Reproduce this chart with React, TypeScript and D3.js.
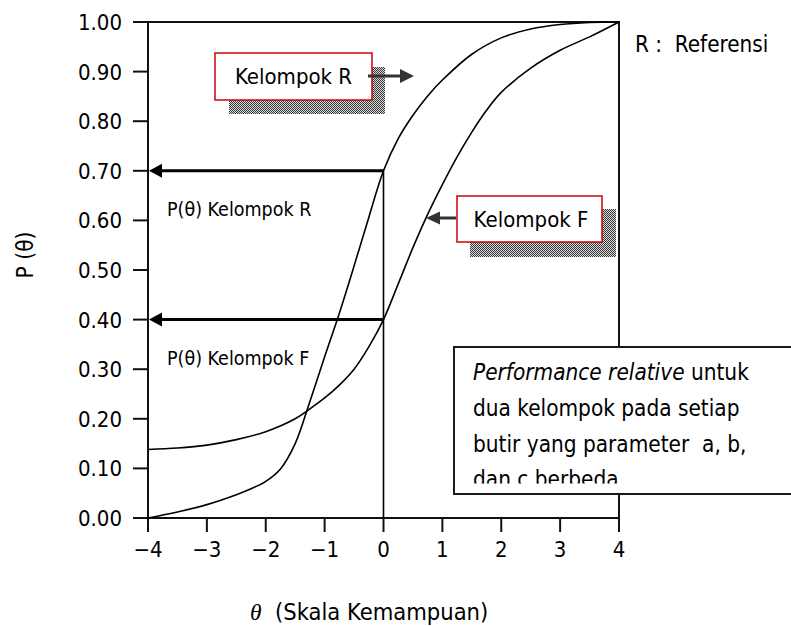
import React from 'react';
import * as d3 from 'd3';

// ---- data ----
const thetaTicks = [-4, -3, -2, -1, 0, 1, 2, 3, 4];
const thetaTickLabels = ['−4', '−3', '−2', '−1', '0', '1', '2', '3', '4'];
const pTicks = [0, 0.1, 0.2, 0.3, 0.4, 0.5, 0.6, 0.7, 0.8, 0.9, 1.0];
const pTickLabels = ['0.00', '0.10', '0.20', '0.30', '0.40', '0.50', '0.60', '0.70', '0.80', '0.90', '1.00'];

// Kelompok R (reference group) ICC
const thetaR = [-4, -3.5, -3, -2.5, -2.25, -2, -1.75, -1.5, -1.25, -1, -0.75, -0.5, -0.25, 0, 0.25, 0.5, 0.75, 1, 1.5, 2, 2.5, 3, 3.5, 4];
const pR = [0.0, 0.012, 0.027, 0.047, 0.059, 0.074, 0.099, 0.15, 0.235, 0.325, 0.413, 0.508, 0.606, 0.7, 0.765, 0.812, 0.851, 0.883, 0.935, 0.968, 0.986, 0.995, 0.999, 1.0];

// Kelompok F (focal group) ICC
const thetaF = [-4, -3.5, -3, -2.5, -2, -1.5, -1.25, -1, -0.75, -0.5, -0.25, 0, 0.25, 0.5, 0.75, 1, 1.25, 1.5, 1.75, 2, 2.5, 3, 3.5, 4];
const pF = [0.138, 0.141, 0.147, 0.158, 0.174, 0.2, 0.22, 0.242, 0.268, 0.3, 0.345, 0.4, 0.472, 0.545, 0.612, 0.672, 0.728, 0.778, 0.822, 0.858, 0.907, 0.943, 0.97, 1.0];

const markerTheta = 0;
const markerLevels = [0.7, 0.4];
const markerLabels = ['P(θ) Kelompok R', 'P(θ) Kelompok F'];
const calloutLabels = ['Kelompok R', 'Kelompok F'];
const noteLine1Italic = 'Performance relative';
const noteLine1Rest = ' untuk';
const noteLines = ['dua kelompok pada setiap', 'butir yang parameter\u00a0\u00a0a, b,', 'dan c berbeda'];
const legendText = 'R :\u00a0\u00a0Referensi';
const xTitleTheta = 'θ';
const xTitleRest = '\u00a0 (Skala Kemampuan)';
const yTitle = 'P (θ)';

const FONT = '"DejaVu Sans Condensed", "DejaVu Sans", sans-serif';

export default function App() {
  const W = 791, H = 626;
  const left = 148, right = 619, top = 22, bottom = 518;
  const x = d3.scaleLinear().domain([-4, 4]).range([left, right]);
  const y = d3.scaleLinear().domain([0, 1]).range([bottom, top]);

  const line = d3.line<[number, number]>()
    .x(d => x(d[0]))
    .y(d => y(d[1]))
    .curve(d3.curveCatmullRom.alpha(0.5));

  const dataR: [number, number][] = thetaR.map((t, i) => [t, pR[i]]);
  const dataF: [number, number][] = thetaF.map((t, i) => [t, pF[i]]);

  const txt = '#000';

  return (
    <svg width={W} height={H} style={{ position: 'absolute', left: 0, top: 0, background: '#fff' }} fontFamily={FONT}>
      <defs>
        <pattern id="dither" width={2} height={2} patternUnits="userSpaceOnUse">
          <rect x={0} y={0} width={2} height={2} fill="#d8d8d8" />
          <rect x={0} y={0} width={1} height={1} fill="#3a3a3a" />
          <rect x={1} y={1} width={1} height={1} fill="#3a3a3a" />
        </pattern>
        <clipPath id="noteClip">
          <rect x={454} y={347} width={400} height={136.5} />
        </clipPath>
      </defs>

      {/* frame */}
      <rect x={left} y={top} width={right - left} height={bottom - top} fill="none" stroke="#111" strokeWidth={2} />

      {/* y ticks */}
      {pTicks.map((p, i) => (
        <g key={'yt' + i}>
          <line x1={left - 15} x2={left} y1={y(p)} y2={y(p)} stroke="#111" strokeWidth={2} />
          <text x={122} y={y(p) + 8} textAnchor="end" fontSize={22} fill={txt}>{pTickLabels[i]}</text>
        </g>
      ))}

      {/* x ticks */}
      {thetaTicks.map((t, i) => (
        <g key={'xt' + i}>
          <line x1={x(t)} x2={x(t)} y1={bottom} y2={bottom + 14} stroke="#111" strokeWidth={2} />
          <text x={x(t)} y={557} textAnchor="middle" fontSize={22} fill={txt}>{thetaTickLabels[i]}</text>
        </g>
      ))}

      {/* curves */}
      <path d={line(dataR) || ''} fill="none" stroke="#000" strokeWidth={1.6} />
      <path d={line(dataF) || ''} fill="none" stroke="#000" strokeWidth={1.6} />

      {/* vertical line at theta = 0 */}
      <line x1={x(markerTheta)} x2={x(markerTheta)} y1={y(markerLevels[0])} y2={y(0)} stroke="#000" strokeWidth={1.6} />

      {/* horizontal arrows to axis */}
      {markerLevels.map((lv, i) => {
        const yy = y(lv);
        return (
          <g key={'ar' + i}>
            <line x1={x(markerTheta)} x2={left + 12} y1={yy} y2={yy} stroke="#000" strokeWidth={3} />
            <polygon points={`${left + 1},${yy} ${left + 14},${yy - 7} ${left + 14},${yy + 7}`} fill="#000" />
            <text x={167} y={yy + 45} fontSize={19.5} fill={txt}>{markerLabels[i]}</text>
          </g>
        );
      })}

      {/* Callout R */}
      <rect x={229} y={67} width={156} height={47} fill="url(#dither)" />
      <rect x={215} y={53} width={157} height={47} fill="#fff" stroke="#d00000" strokeWidth={1.5} />
      <text x={293.5} y={84} textAnchor="middle" fontSize={22} fill={txt}>{calloutLabels[0]}</text>
      <line x1={368} x2={402} y1={76} y2={76} stroke="#333" strokeWidth={3} />
      <polygon points="414,76 400,69 400,83" fill="#333" />

      {/* Callout F */}
      <rect x={470} y={209} width={146} height={48} fill="url(#dither)" />
      <rect x={457} y={196} width={145} height={46} fill="#fff" stroke="#d00000" strokeWidth={1.5} />
      <text x={531} y={227} textAnchor="middle" fontSize={22} fill={txt}>{calloutLabels[1]}</text>
      <line x1={456} x2={438} y1={218} y2={218} stroke="#333" strokeWidth={3} />
      <polygon points="426,218 440,211.5 440,224.5" fill="#333" />

      {/* note box */}
      <rect x={454} y={347} width={360} height={147} fill="#fff" stroke="#1a1a1a" strokeWidth={2} />
      <g clipPath="url(#noteClip)" fontSize={22.4} fill={txt}>
        <text x={473} y={380}>
          <tspan fontStyle="italic">{noteLine1Italic}</tspan>
          <tspan>{noteLine1Rest}</tspan>
        </text>
        {noteLines.map((l, i) => (
          <text key={'nl' + i} x={473} y={416 + i * 35.5}>{l}</text>
        ))}
      </g>

      {/* legend */}
      <text x={635} y={52} fontSize={22.3} fill={txt}>{legendText}</text>

      {/* axis titles */}
      <text x={250} y={620} fontSize={23.5} fill={txt}>
        <tspan fontStyle="italic" fontFamily='"Liberation Serif", serif'>{xTitleTheta}</tspan>
        <tspan>{xTitleRest}</tspan>
      </text>
      <text transform="translate(33,255) rotate(-90)" textAnchor="middle" fontSize={22.5} fill={txt}>{yTitle}</text>
    </svg>
  );
}
